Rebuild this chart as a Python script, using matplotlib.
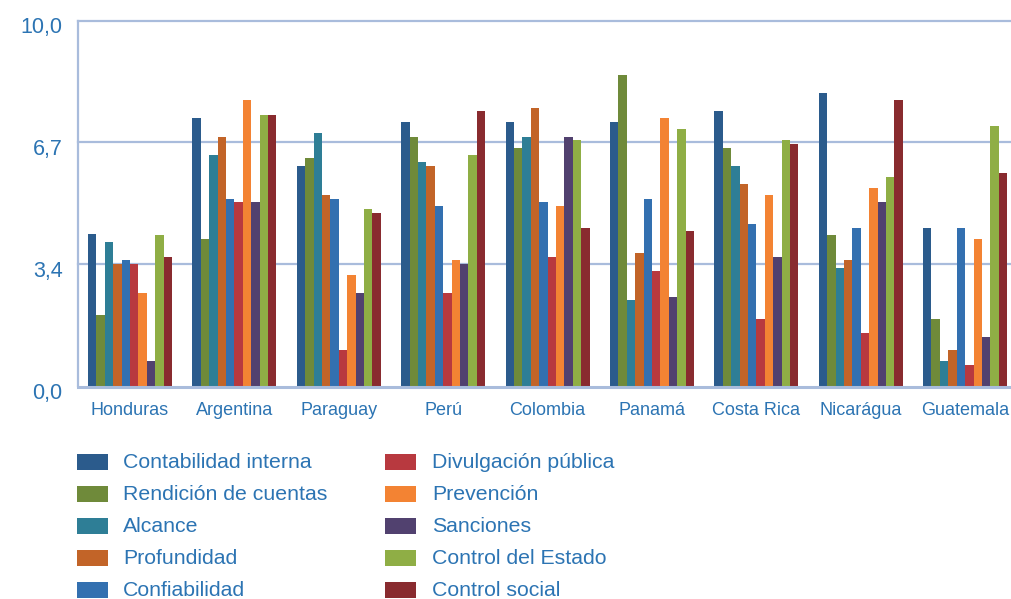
import matplotlib
matplotlib.use("Agg")
import matplotlib.pyplot as plt
import matplotlib.transforms as mtransforms
import numpy as np
from matplotlib.patches import Rectangle

plt.rcParams['font.family'] = ['Liberation Sans', 'DejaVu Sans']

countries = ["Honduras", "Argentina", "Paraguay", "Perú", "Colombia",
             "Panamá", "Costa Rica", "Nicarágua", "Guatemala"]
series_names = ["Contabilidad interna", "Rendición de cuentas", "Alcance",
                "Profundidad", "Confiabilidad", "Divulgación pública",
                "Prevención", "Sanciones", "Control del Estado", "Control social"]
contabilidad_interna = [4.16, 7.33, 6.02, 7.22, 7.22, 7.22, 7.52, 8.02, 4.32]
rendicion_cuentas    = [1.94, 4.02, 6.24, 6.81, 6.51, 8.51, 6.51, 4.13, 1.83]
alcance              = [3.94, 6.32, 6.92, 6.13, 6.81, 2.35, 6.02, 3.23, 0.66]
profundidad          = [3.34, 6.81, 5.23, 6.02, 7.61, 3.64, 5.53, 3.45, 0.96]
confiabilidad        = [3.45, 5.12, 5.12, 4.92, 5.03, 5.12, 4.43, 4.32, 4.32]
divulgacion_publica  = [3.34, 5.03, 0.96, 2.54, 3.53, 3.15, 1.83, 1.45, 0.55]
prevencion           = [2.54, 7.82, 3.04, 3.45, 4.92, 7.33, 5.23, 5.42, 4.02]
sanciones            = [0.66, 5.03, 2.54, 3.34, 6.81, 2.43, 3.53, 5.03, 1.34]
control_estado       = [4.13, 7.41, 4.84, 6.32, 6.73, 7.03, 6.73, 5.72, 7.11]
control_social       = [3.53, 7.41, 4.73, 7.52, 4.32, 4.24, 6.62, 7.82, 5.83]
series_values = [contabilidad_interna, rendicion_cuentas, alcance, profundidad,
                 confiabilidad, divulgacion_publica, prevencion, sanciones,
                 control_estado, control_social]
y_ticks = [0.0, 10/3, 20/3, 10.0]
y_tick_labels = ["0,0", "3,4", "6,7", "10,0"]

colors = ["#2B5B8C", "#6F8A3A", "#2E7E96", "#C26428", "#3370B0",
          "#B8393F", "#F38333", "#51416F", "#8FAE45", "#892B2F"]
text_color = "#2C74B3"
grid_color = "#A9BCDC"

W, H = 1011, 599
fig = plt.figure(figsize=(W / 100, H / 100), dpi=100)
ax_left, ax_right, ax_bottom, ax_top = 77.8, 1010, 385.5, 20.5
ax = fig.add_axes([ax_left / W, (H - ax_bottom) / H,
                   (ax_right - ax_left) / W, (ax_bottom - ax_top) / H])

x = np.arange(len(countries))
n = len(series_values)
bw = 0.0805
for i, (vals, c) in enumerate(zip(series_values, colors)):
    ax.bar(x + (i - (n - 1) / 2) * bw, vals, width=bw, color=c, linewidth=0,
           zorder=3)

ax.set_xlim(-0.5, 8.43)
ax.set_ylim(0, 10)
for s in ['top', 'right', 'bottom']:
    ax.spines[s].set_visible(False)
ax.spines['left'].set_color(grid_color)
ax.spines['left'].set_linewidth(1.6)
ax.set_yticks(y_ticks)
ax.set_yticklabels(y_tick_labels)
ax.tick_params(axis='y', length=0, pad=11, labelsize=15.5, labelcolor=text_color)
offset = mtransforms.ScaledTranslation(0, -5 / 100, fig.dpi_scale_trans)
for lbl in ax.get_yticklabels():
    lbl.set_transform(lbl.get_transform() + offset)
for yv in y_ticks[1:]:
    ax.axhline(yv, color=grid_color, lw=1.6, zorder=1, clip_on=False)
base = ax.axhline(0, color=grid_color, lw=2.2, zorder=4, clip_on=False)
base.set_transform(base.get_transform() +
                   mtransforms.ScaledTranslation(0, -1.5 / 100, fig.dpi_scale_trans))

ax.set_xticks(x)
ax.set_xticklabels(countries)
ax.tick_params(axis='x', length=0, pad=12, labelsize=13, labelcolor=text_color)

# legend (manual, pixel positions)
patch_x = [77, 385]
text_x = [123, 432]
row_y = [462, 494, 526, 558, 590]
for i, (name, c) in enumerate(zip(series_names, colors)):
    col = i // 5
    row = i % 5
    py = row_y[row]
    fig.add_artist(Rectangle((patch_x[col] / W, (H - py - 8) / H), 31 / W, 16 / H,
                             transform=fig.transFigure, color=c, lw=0))
    fig.text(text_x[col] / W, (H - py) / H, name, color=text_color,
             fontsize=15.3, va='center', ha='left')

fig.savefig("out.png", dpi=100)
